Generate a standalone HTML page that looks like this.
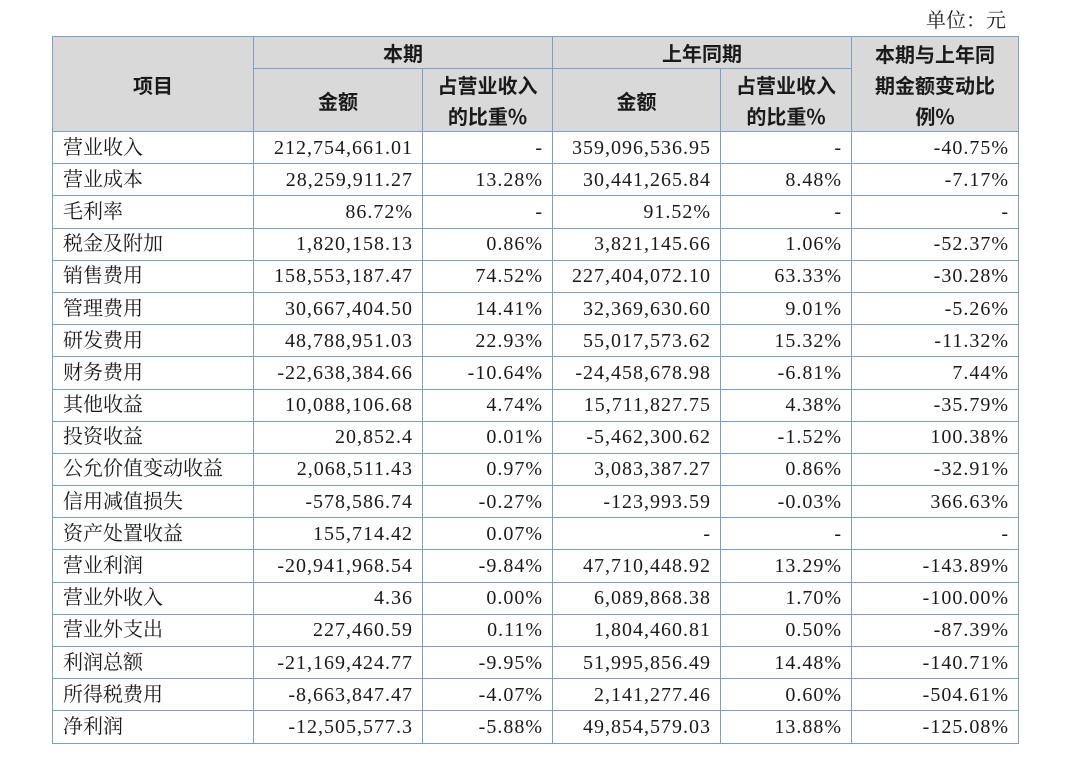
<!DOCTYPE html>
<html><head><meta charset="utf-8"><style>
body{margin:0;background:#fff;width:1066px;height:766px;overflow:hidden;position:relative}
.u{position:absolute;right:60px;top:4px;font:20px "Noto Serif CJK SC",serif;color:#222;line-height:30px}
table{position:absolute;left:52px;top:36px;border-collapse:collapse;table-layout:fixed;width:966px}
td,th{border:1.5px solid #7f9fc0;padding:0 8px;white-space:nowrap;color:#1a1a1a;vertical-align:middle}
th{background:#d9d9d9;font:bold 20px "Noto Sans CJK SC",sans-serif;text-align:center;line-height:31px}
td{height:31.2px;font:20px "Liberation Serif","Noto Serif CJK SC",serif;line-height:24px;text-align:right;letter-spacing:1px;padding:0 9px 0 6px}
td:first-child{text-align:left;letter-spacing:0;padding-left:10px;font-family:"Noto Serif CJK SC",serif;line-height:24px}
td:first-child span{position:relative;top:-2px}
</style></head><body>
<div class="u">单位：元</div>
<table>
<colgroup><col style="width:201px"><col style="width:169px"><col style="width:130px"><col style="width:168px"><col style="width:131px"><col style="width:167px"></colgroup>
<tr style="height:32px"><th rowspan="2">项目</th><th colspan="2">本期</th><th colspan="2">上年同期</th><th rowspan="2">本期与上年同<br>期金额变动比<br>例%</th></tr>
<tr style="height:63px"><th>金额</th><th>占营业收入<br>的比重%</th><th>金额</th><th>占营业收入<br>的比重%</th></tr>
<tr><td><span>营业收入</span></td><td>212,754,661.01</td><td>-</td><td>359,096,536.95</td><td>-</td><td>-40.75%</td></tr>
<tr><td><span>营业成本</span></td><td>28,259,911.27</td><td>13.28%</td><td>30,441,265.84</td><td>8.48%</td><td>-7.17%</td></tr>
<tr><td><span>毛利率</span></td><td>86.72%</td><td>-</td><td>91.52%</td><td>-</td><td>-</td></tr>
<tr><td><span>税金及附加</span></td><td>1,820,158.13</td><td>0.86%</td><td>3,821,145.66</td><td>1.06%</td><td>-52.37%</td></tr>
<tr><td><span>销售费用</span></td><td>158,553,187.47</td><td>74.52%</td><td>227,404,072.10</td><td>63.33%</td><td>-30.28%</td></tr>
<tr><td><span>管理费用</span></td><td>30,667,404.50</td><td>14.41%</td><td>32,369,630.60</td><td>9.01%</td><td>-5.26%</td></tr>
<tr><td><span>研发费用</span></td><td>48,788,951.03</td><td>22.93%</td><td>55,017,573.62</td><td>15.32%</td><td>-11.32%</td></tr>
<tr><td><span>财务费用</span></td><td>-22,638,384.66</td><td>-10.64%</td><td>-24,458,678.98</td><td>-6.81%</td><td>7.44%</td></tr>
<tr><td><span>其他收益</span></td><td>10,088,106.68</td><td>4.74%</td><td>15,711,827.75</td><td>4.38%</td><td>-35.79%</td></tr>
<tr><td><span>投资收益</span></td><td>20,852.4</td><td>0.01%</td><td>-5,462,300.62</td><td>-1.52%</td><td>100.38%</td></tr>
<tr><td><span>公允价值变动收益</span></td><td>2,068,511.43</td><td>0.97%</td><td>3,083,387.27</td><td>0.86%</td><td>-32.91%</td></tr>
<tr><td><span>信用减值损失</span></td><td>-578,586.74</td><td>-0.27%</td><td>-123,993.59</td><td>-0.03%</td><td>366.63%</td></tr>
<tr><td><span>资产处置收益</span></td><td>155,714.42</td><td>0.07%</td><td>-</td><td>-</td><td>-</td></tr>
<tr><td><span>营业利润</span></td><td>-20,941,968.54</td><td>-9.84%</td><td>47,710,448.92</td><td>13.29%</td><td>-143.89%</td></tr>
<tr><td><span>营业外收入</span></td><td>4.36</td><td>0.00%</td><td>6,089,868.38</td><td>1.70%</td><td>-100.00%</td></tr>
<tr><td><span>营业外支出</span></td><td>227,460.59</td><td>0.11%</td><td>1,804,460.81</td><td>0.50%</td><td>-87.39%</td></tr>
<tr><td><span>利润总额</span></td><td>-21,169,424.77</td><td>-9.95%</td><td>51,995,856.49</td><td>14.48%</td><td>-140.71%</td></tr>
<tr><td><span>所得税费用</span></td><td>-8,663,847.47</td><td>-4.07%</td><td>2,141,277.46</td><td>0.60%</td><td>-504.61%</td></tr>
<tr><td><span>净利润</span></td><td>-12,505,577.3</td><td>-5.88%</td><td>49,854,579.03</td><td>13.88%</td><td>-125.08%</td></tr>
</table>
</body></html>
